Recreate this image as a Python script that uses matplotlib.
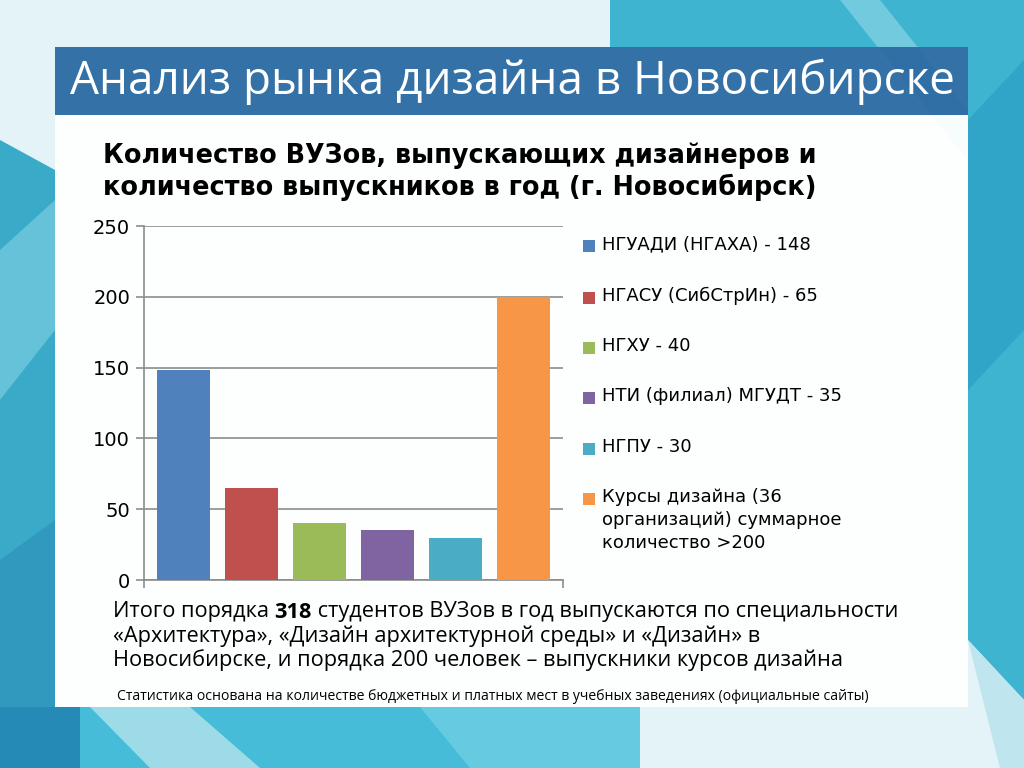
import matplotlib
matplotlib.use("Agg")
import matplotlib.pyplot as plt
from matplotlib.patches import Rectangle, Polygon

# ---- data ----
categories = ["НГУАДИ (НГАХА) - 148", "НГАСУ (СибСтрИн) - 65", "НГХУ - 40",
              "НТИ (филиал) МГУДТ - 35", "НГПУ - 30",
              "Курсы дизайна (36\nорганизаций) суммарное\nколичество >200"]
values = [148, 65, 40, 35, 30, 200]
colors = ["#4f81bd", "#c0504d", "#9bbb59", "#8064a2", "#4bacc6", "#f79646"]
yticks = [0, 50, 100, 150, 200, 250]

slide_title = "Анализ рынка дизайна в Новосибирске"
chart_title = "Количество ВУЗов, выпускающих дизайнеров и\nколичество выпускников в год (г. Новосибирск)"
summary_parts = [("Итого порядка ", "normal"), ("318", "bold"),
                 (" студентов ВУЗов в год выпускаются по специальности", "normal")]
summary_rest = ["«Архитектура», «Дизайн архитектурной среды» и «Дизайн» в",
                "Новосибирске, и порядка 200 человек – выпускники курсов дизайна"]
footnote = "Статистика основана на количестве бюджетных и платных мест в учебных заведениях (официальные сайты)"

W, H = 1024, 768
fig = plt.figure(figsize=(W / 100, H / 100), dpi=100)
fig.patch.set_facecolor("#e4f3f8")

def px(x, y):
    return (x / W, 1 - y / H)

def poly(pts, color, alpha=1.0, z=0):
    p = Polygon([px(x, y) for x, y in pts], closed=True, transform=fig.transFigure,
                facecolor=color, edgecolor="none", alpha=alpha, zorder=z)
    fig.add_artist(p)

# background decorative shapes
poly([(610, 0), (1024, 0), (1024, 700), (968, 640), (968, 47), (610, 47)], "#3fb4d0")
poly([(840, 0), (880, 0), (968, 110), (968, 160)], "#7fd0e2", 0.8)
poly([(968, 120), (1024, 60), (1024, 330), (968, 390)], "#2aa0c4", 0.7)
poly([(968, 640), (1024, 700), (1024, 768), (1000, 768)], "#bfe6ef")
poly([(0, 140), (55, 170), (55, 707), (0, 707)], "#39aac8")
poly([(0, 250), (55, 200), (55, 330), (0, 400)], "#78cde0", 0.7)
poly([(0, 560), (55, 520), (55, 707), (0, 707)], "#2c8fb8", 0.6)
poly([(0, 707), (640, 707), (640, 768), (0, 768)], "#46bcd8")
poly([(90, 707), (190, 707), (260, 768), (150, 768)], "#a9dfeb", 0.9)
poly([(0, 707), (80, 707), (80, 768), (0, 768)], "#1d7fae", 0.8)
poly([(420, 707), (640, 707), (640, 768), (470, 768)], "#6fd0e3", 0.8)

# white panel and title bar
fig.add_artist(Rectangle(px(55, 707), (968 - 55) / W, (707 - 115) / H, transform=fig.transFigure,
                         facecolor="white", edgecolor="none", alpha=0.93, zorder=1))
fig.add_artist(Rectangle(px(55, 115), (968 - 55) / W, (115 - 47) / H, transform=fig.transFigure,
                         facecolor="#2a6aa2", edgecolor="none", alpha=0.95, zorder=1))

fig.text(*px(70, 82), slide_title, color="white", fontsize=33, family="Open Sans",
         va="center", ha="left", zorder=3)
fig.text(*px(103, 172), chart_title, color="black", fontsize=18.4, family="DejaVu Sans",
         weight="bold", va="center", ha="left", linespacing=1.22, zorder=3)

# chart axes
ax = fig.add_axes([144 / W, 1 - 580 / H, (563 - 144) / W, (580 - 226) / H], zorder=2)
ax.set_facecolor("none")
xs = list(range(len(values)))
ax.bar(xs, values, width=0.78, color=colors, zorder=3)
ax.set_xlim(-0.58, 5.58)
ax.set_ylim(0, 250)
ax.set_yticks(yticks)
ax.set_yticklabels([str(t) for t in yticks], fontsize=14, family="DejaVu Sans")
ax.yaxis.grid(True, color="#8c8c8c", linewidth=1.2, zorder=1)
ax.set_axisbelow(True)
ax.set_xticks([-0.58, 5.58])
ax.set_xticklabels(["", ""])
ax.tick_params(axis="x", length=6, color="#8c8c8c", width=1.2)
ax.tick_params(axis="y", length=6, color="#8c8c8c", width=1.2, pad=4)
for s in ["top", "right"]:
    ax.spines[s].set_visible(False)
for s in ["left", "bottom"]:
    ax.spines[s].set_color("#8c8c8c")
    ax.spines[s].set_linewidth(1.2)

# legend (manual)
leg_y = [246, 298, 348, 398, 449, 499]
for lab, col, y in zip(categories, colors, leg_y):
    fig.add_artist(Rectangle(px(583, y + 6), 12 / W, 12 / H, transform=fig.transFigure,
                             facecolor=col, edgecolor="none", zorder=3))
    fig.text(*px(602, y - 11), lab, fontsize=13, family="DejaVu Sans", va="top",
             ha="left", linespacing=1.35, zorder=3)

# summary text
fig.canvas.draw()
renderer = fig.canvas.get_renderer()
x0 = 113
for txt, wt in summary_parts:
    t = fig.text(*px(x0, 612), txt, fontsize=15.7, family="Open Sans", weight=wt,
                 va="center", ha="left", zorder=3)
    bb = t.get_window_extent(renderer)
    x0 = bb.x1
for i, line in enumerate(summary_rest):
    fig.text(*px(113, 636 + 24 * i), line, fontsize=15.7, family="Open Sans",
             va="center", ha="left", zorder=3)

fig.text(*px(117, 697), footnote, fontsize=10.05, family="Open Sans",
         va="center", ha="left", zorder=3)

fig.savefig("out.png", dpi=100)
